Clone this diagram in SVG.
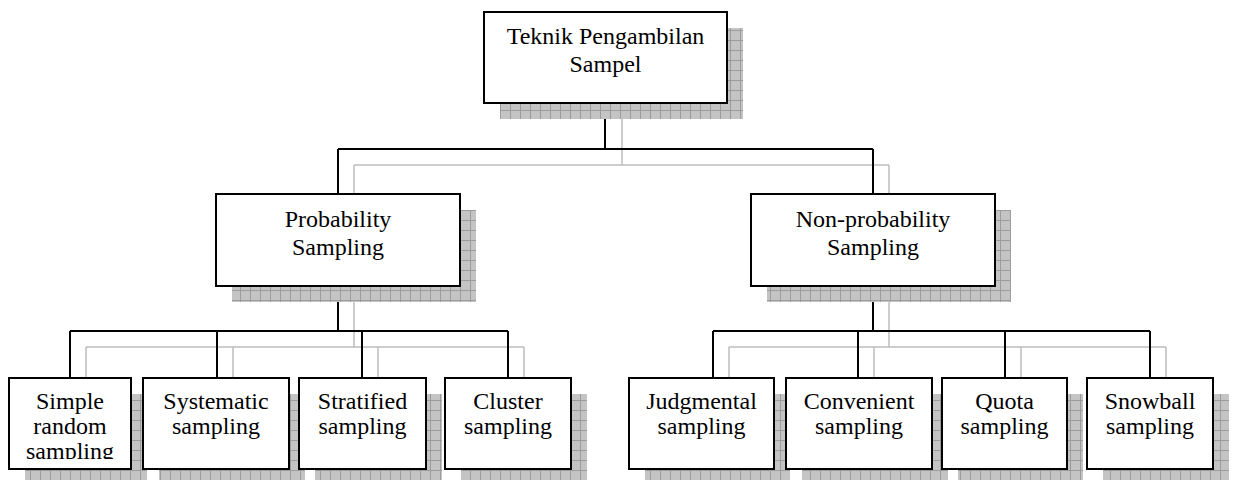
<svg xmlns="http://www.w3.org/2000/svg" width="1236" height="480" viewBox="0 0 1236 480">
<defs>
<pattern id="grid" x="0" y="0" width="10" height="10" patternUnits="userSpaceOnUse">
<rect width="10" height="10" fill="#c4c4c4"/>
<path d="M0 0.5H10M0.5 0V10" stroke="#9c9c9c" stroke-width="1"/>
</pattern>
<clipPath id="clipSimple"><rect x="9" y="378" width="122" height="81"/></clipPath>
</defs>
<style>
.shadow{fill:url(#grid);}
.box{fill:#fff;stroke:#000;stroke-width:2;}
.conn{fill:none;stroke:#000;stroke-width:2;}
.sconn{fill:none;stroke:#bdbdbd;stroke-width:1.5;}
text{font-family:"Liberation Serif","Times New Roman",serif;font-size:24px;text-anchor:middle;fill:#000;}
</style>
<rect width="1236" height="480" fill="#fff"/>
<g id="shadow-connectors">
<path class="sconn" d="M622 119V165M354 165H889M354 165V210M889 165V210"/>
<path class="sconn" d="M354 301V347M86 347H524M86 347V394M233 347V394M378 347V394M524 347V394"/>
<path class="sconn" d="M889 301V347M729 347H1166M729 347V394M874 347V394M1021 347V394M1166 347V394"/>
</g>
<g id="connectors">
<path class="conn" d="M605 103V149M338 149H873M338 149V194M873 149V194"/>
<path class="conn" d="M338 286V331M70 331H508M70 331V378M217 331V378M362 331V378M508 331V378"/>
<path class="conn" d="M873 286V331M713 331H1150M713 331V378M858 331V378M1005 331V378M1150 331V378"/>
</g>
<g id="n-root">
<rect class="shadow" x="500" y="28" width="243" height="91"/>
<rect class="box" x="484" y="12" width="243" height="91"/>
<text x="605.5" y="44">Teknik Pengambilan</text>
<text x="605.5" y="72">Sampel</text>
</g>
<g id="n-prob">
<rect class="shadow" x="232" y="210" width="244" height="92"/>
<rect class="box" x="216" y="194" width="244" height="92"/>
<text x="338" y="227">Probability</text>
<text x="338" y="255">Sampling</text>
</g>
<g id="n-nonprob">
<rect class="shadow" x="767" y="210" width="244" height="92"/>
<rect class="box" x="751" y="194" width="244" height="92"/>
<text x="873" y="227">Non-probability</text>
<text x="873" y="255">Sampling</text>
</g>
<g id="n-simple">
<rect class="shadow" x="25" y="394" width="122" height="91"/>
<rect class="box" x="9" y="378" width="122" height="91"/>
<g clip-path="url(#clipSimple)">
<text x="70" y="409">Simple</text>
<text x="70" y="434">random</text>
<text x="70" y="459">sampling</text>
</g>
</g>
<g id="n-systematic">
<rect class="shadow" x="159" y="394" width="146" height="91"/>
<rect class="box" x="143" y="378" width="146" height="91"/>
<text x="216" y="409">Systematic</text>
<text x="216" y="434">sampling</text>
</g>
<g id="n-stratified">
<rect class="shadow" x="315" y="394" width="127" height="91"/>
<rect class="box" x="299" y="378" width="127" height="91"/>
<text x="362.5" y="409">Stratified</text>
<text x="362.5" y="434">sampling</text>
</g>
<g id="n-cluster">
<rect class="shadow" x="461" y="394" width="126" height="91"/>
<rect class="box" x="445" y="378" width="126" height="91"/>
<text x="508" y="409">Cluster</text>
<text x="508" y="434">sampling</text>
</g>
<g id="n-judgmental">
<rect class="shadow" x="645" y="394" width="145" height="91"/>
<rect class="box" x="629" y="378" width="145" height="91"/>
<text x="701.5" y="409">Judgmental</text>
<text x="701.5" y="434">sampling</text>
</g>
<g id="n-convenient">
<rect class="shadow" x="802" y="394" width="146" height="91"/>
<rect class="box" x="786" y="378" width="146" height="91"/>
<text x="859" y="409">Convenient</text>
<text x="859" y="434">sampling</text>
</g>
<g id="n-quota">
<rect class="shadow" x="958" y="394" width="125" height="91"/>
<rect class="box" x="942" y="378" width="125" height="91"/>
<text x="1004.5" y="409">Quota</text>
<text x="1004.5" y="434">sampling</text>
</g>
<g id="n-snowball">
<rect class="shadow" x="1103" y="394" width="126" height="91"/>
<rect class="box" x="1087" y="378" width="126" height="91"/>
<text x="1150" y="409">Snowball</text>
<text x="1150" y="434">sampling</text>
</g>
</svg>
